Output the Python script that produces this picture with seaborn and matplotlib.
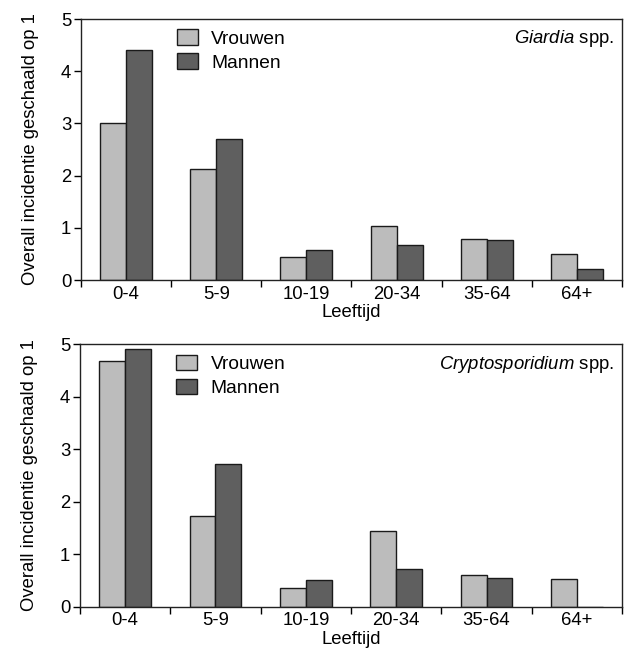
import seaborn as sns
import matplotlib.pyplot as plt
import pandas as pd

# leeftijdsgroepen en waarden
leeftijd = ['0-4', '5-9', '10-19', '20-34', '35-64', '64+']
giardia_vrouwen = [3.0, 2.13, 0.45, 1.03, 0.79, 0.50]
giardia_mannen = [4.41, 2.70, 0.57, 0.68, 0.77, 0.22]
crypto_vrouwen = [4.69, 1.72, 0.36, 1.44, 0.60, 0.53]
crypto_mannen = [4.92, 2.71, 0.50, 0.71, 0.55, 0.0]

sns.set_style('white')
plt.rcParams['font.family'] = ['Liberation Sans', 'DejaVu Sans']
plt.rcParams['mathtext.fontset'] = 'custom'
plt.rcParams['mathtext.rm'] = 'Liberation Sans'
plt.rcParams['mathtext.it'] = 'Liberation Sans:italic'
plt.rcParams['text.color'] = 'black'
plt.rcParams['axes.labelcolor'] = 'black'
plt.rcParams['xtick.color'] = 'black'
plt.rcParams['ytick.color'] = 'black'

kleuren = {'Vrouwen': '#bcbcbc', 'Mannen': '#5f5f5f'}
fs = 13.3


def maak_df(vrouwen, mannen):
    df = pd.DataFrame({'Leeftijd': leeftijd * 2,
                       'waarde': vrouwen + mannen,
                       'geslacht': ['Vrouwen'] * 6 + ['Mannen'] * 6})
    return df


def paneel(ax, df, titel):
    sns.barplot(data=df, x='Leeftijd', y='waarde', hue='geslacht', palette=kleuren,
                width=0.575, edgecolor='#1a1a1a', linewidth=1.0, ax=ax,
                hue_order=['Vrouwen', 'Mannen'])
    ax.set_xlim(-0.5, 5.5)
    ax.set_ylim(0, 5)
    ax.set_yticks([0, 1, 2, 3, 4, 5])
    ax.set_xticks([i - 0.5 for i in range(7)])
    ax.set_xticklabels([])
    ax.set_xticks(range(6), minor=True)
    ax.set_xticklabels(leeftijd, minor=True, fontsize=fs)
    ax.tick_params(axis='x', which='major', length=5, width=1, direction='out', bottom=True)
    ax.tick_params(axis='x', which='minor', length=0, pad=4)
    ax.tick_params(axis='y', length=5, width=1, direction='out', left=True, labelsize=fs, pad=2)
    for s in ax.spines.values():
        s.set_linewidth(1.0)
        s.set_color('#222222')
        s.set_visible(True)
    ax.set_xlabel('Leeftijd', fontsize=fs, labelpad=1)
    ax.set_ylabel('Overall incidentie geschaald op 1', fontsize=fs, labelpad=16)
    ax.legend(loc='upper left', bbox_to_anchor=(0.163, 0.99), frameon=False, fontsize=13.8,
              handlelength=1.1, handleheight=0.85, handletextpad=0.7, labelspacing=0.3,
              borderaxespad=0)
    ax.text(0.985, 0.925, titel, transform=ax.transAxes, ha='right', va='center', fontsize=fs)


fig = plt.figure(figsize=(6.24, 6.53), dpi=100)
ax1 = fig.add_axes([0.1298, 0.5712, 0.867, 0.3997])
ax2 = fig.add_axes([0.1282, 0.0709, 0.8686, 0.4018])

paneel(ax1, maak_df(giardia_vrouwen, giardia_mannen), r'$\it{Giardia}$ spp.')
paneel(ax2, maak_df(crypto_vrouwen, crypto_mannen), r'$\it{Cryptosporidium}$ spp.')

fig.savefig('out.png', dpi=100)
